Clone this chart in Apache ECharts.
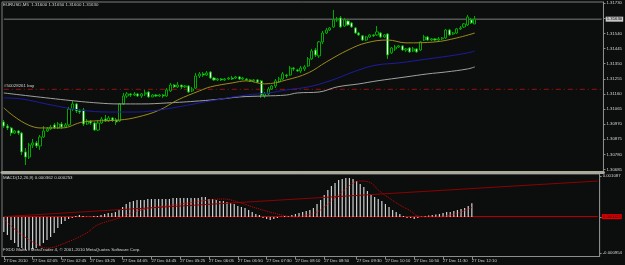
<!DOCTYPE html>
<html>
<head>
<meta charset="utf-8">
<script src="https://cdn.jsdelivr.net/npm/echarts@6/dist/echarts.min.js"></script>
<style>
html, body { margin: 0; padding: 0; background: #0c0e0e; }
#chart { width: 625px; height: 265px; }
</style>
</head>
<body>
<div id="chart"></div>
<script>
// EURUSD M5 candles (131 bars)
var opens = [1.30984,1.30958,1.30946,1.30914,1.30927,1.30914,1.30795,1.30763,1.30839,1.30852,
  1.30833,1.30889,1.30927,1.30940,1.30965,1.30946,1.30971,1.30952,1.30965,1.31065,
  1.31097,1.31053,1.31059,1.30971,1.30990,1.30977,1.30933,1.30977,1.31002,1.30990,
  1.31009,1.30996,1.30990,1.31097,1.31147,1.31160,1.31153,1.31160,1.31147,1.31160,
  1.31172,1.31141,1.31153,1.31147,1.31153,1.31147,1.31179,1.31216,1.31204,1.31216,
  1.31204,1.31210,1.31179,1.31197,1.31273,1.31286,1.31279,1.31298,1.31260,1.31248,
  1.31254,1.31248,1.31254,1.31260,1.31260,1.31267,1.31254,1.31254,1.31248,1.31242,
  1.31248,1.31242,1.31147,1.31160,1.31191,1.31210,1.31235,1.31254,1.31279,1.31279,
  1.31323,1.31311,1.31304,1.31317,1.31336,1.31380,1.31436,1.31399,1.31487,1.31543,
  1.31562,1.31581,1.31625,1.31638,1.31587,1.31619,1.31606,1.31575,1.31543,1.31525,
  1.31499,1.31518,1.31531,1.31531,1.31543,1.31518,1.31537,1.31418,1.31443,1.31455,
  1.31462,1.31436,1.31449,1.31430,1.31443,1.31436,1.31499,1.31518,1.31499,1.31506,
  1.31499,1.31506,1.31512,1.31562,1.31537,1.31543,1.31569,1.31581,1.31594,1.31625,
  1.31600];
var closes = [1.30958,1.30946,1.30914,1.30927,1.30914,1.30795,1.30763,1.30839,1.30852,1.30833,
  1.30889,1.30927,1.30940,1.30952,1.30946,1.30971,1.30952,1.30965,1.31065,1.31097,
  1.31053,1.31046,1.30971,1.30990,1.30977,1.30933,1.30977,1.31002,1.30990,1.31009,
  1.30996,1.30984,1.31097,1.31147,1.31160,1.31153,1.31160,1.31147,1.31160,1.31166,
  1.31141,1.31153,1.31147,1.31153,1.31147,1.31185,1.31216,1.31204,1.31216,1.31204,
  1.31210,1.31172,1.31191,1.31273,1.31286,1.31279,1.31292,1.31260,1.31248,1.31254,
  1.31248,1.31254,1.31260,1.31254,1.31267,1.31254,1.31260,1.31248,1.31242,1.31248,
  1.31235,1.31153,1.31160,1.31191,1.31210,1.31242,1.31254,1.31286,1.31273,1.31323,
  1.31317,1.31304,1.31323,1.31330,1.31380,1.31430,1.31405,1.31487,1.31543,1.31562,
  1.31575,1.31625,1.31631,1.31581,1.31625,1.31594,1.31581,1.31543,1.31531,1.31499,
  1.31518,1.31531,1.31525,1.31550,1.31518,1.31531,1.31405,1.31449,1.31455,1.31462,
  1.31436,1.31443,1.31424,1.31443,1.31424,1.31487,1.31518,1.31499,1.31506,1.31499,
  1.31506,1.31512,1.31562,1.31531,1.31543,1.31569,1.31575,1.31600,1.31644,1.31606,
  1.31630];
var lows = [1.30946,1.30933,1.30896,1.30908,1.30902,1.30776,1.30713,1.30751,1.30820,1.30820,
  1.30808,1.30883,1.30921,1.30933,1.30940,1.30940,1.30940,1.30946,1.30958,1.31053,
  1.31040,1.31034,1.30958,1.30965,1.30965,1.30927,1.30927,1.30971,1.30984,1.30984,
  1.30984,1.30965,1.30984,1.31091,1.31135,1.31141,1.31147,1.31141,1.31135,1.31147,
  1.31135,1.31141,1.31141,1.31141,1.31135,1.31141,1.31172,1.31197,1.31197,1.31191,
  1.31197,1.31166,1.31172,1.31191,1.31260,1.31267,1.31273,1.31254,1.31242,1.31242,
  1.31242,1.31242,1.31248,1.31248,1.31254,1.31248,1.31248,1.31242,1.31235,1.31235,
  1.31229,1.31135,1.31135,1.31153,1.31185,1.31197,1.31229,1.31248,1.31260,1.31273,
  1.31304,1.31298,1.31292,1.31304,1.31330,1.31374,1.31392,1.31386,1.31474,1.31537,
  1.31556,1.31575,1.31613,1.31575,1.31581,1.31587,1.31575,1.31537,1.31525,1.31493,
  1.31493,1.31512,1.31518,1.31525,1.31512,1.31512,1.31380,1.31411,1.31430,1.31449,
  1.31430,1.31424,1.31418,1.31424,1.31418,1.31430,1.31493,1.31493,1.31493,1.31493,
  1.31493,1.31499,1.31506,1.31525,1.31531,1.31537,1.31562,1.31575,1.31587,1.31600,
  1.31600];
var highs = [1.30996,1.30971,1.30952,1.30933,1.30933,1.30921,1.30820,1.30852,1.30877,1.30864,
  1.30902,1.30958,1.30952,1.30965,1.30977,1.30984,1.30984,1.30977,1.31078,1.31116,
  1.31103,1.31065,1.31072,1.31002,1.30996,1.30984,1.30996,1.31015,1.31028,1.31021,
  1.31015,1.31009,1.31103,1.31166,1.31172,1.31166,1.31172,1.31166,1.31166,1.31185,
  1.31179,1.31160,1.31160,1.31160,1.31160,1.31197,1.31229,1.31223,1.31235,1.31216,
  1.31216,1.31216,1.31204,1.31292,1.31298,1.31298,1.31304,1.31304,1.31267,1.31260,
  1.31260,1.31260,1.31267,1.31273,1.31273,1.31273,1.31267,1.31260,1.31254,1.31254,
  1.31254,1.31248,1.31172,1.31204,1.31216,1.31254,1.31267,1.31298,1.31286,1.31336,
  1.31330,1.31317,1.31336,1.31342,1.31392,1.31443,1.31449,1.31493,1.31556,1.31575,
  1.31581,1.31688,1.31644,1.31650,1.31638,1.31625,1.31613,1.31581,1.31550,1.31531,
  1.31525,1.31537,1.31537,1.31587,1.31550,1.31537,1.31543,1.31455,1.31468,1.31468,
  1.31468,1.31449,1.31455,1.31455,1.31449,1.31493,1.31531,1.31525,1.31512,1.31512,
  1.31518,1.31518,1.31569,1.31569,1.31550,1.31575,1.31587,1.31606,1.31657,1.31638,
  1.31650];

// moving averages: [bar index, price]
var maYellow = [[0,1.31072],[10,1.30946],[16,1.30946],[22,1.30984],[32,1.30996],[37,1.31015],
  [43,1.31059],[48,1.31122],[54,1.31179],[57,1.31204],[63,1.31229],[67,1.31242],[72,1.31223],
  [78,1.31248],[84,1.31292],[89,1.31361],[95,1.31436],[100,1.31481],[106,1.31499],[111,1.31481],
  [119,1.31487],[125,1.31512],[130,1.31543]];
var maBlue = [[0,1.31135],[5,1.31128],[13,1.31091],[21,1.31059],[29,1.31046],[36,1.31046],
  [41,1.31053],[48,1.31078],[57,1.31116],[67,1.31153],[73,1.31166],[78,1.31185],[84,1.31204],
  [90,1.31242],[98,1.31311],[103,1.31342],[109,1.31355],[117,1.31380],[123,1.31399],[128,1.31418],
  [130,1.31430]];
var maGray = [[0,1.31166],[17,1.31122],[26,1.31103],[32,1.31097],[38,1.31097],[45,1.31103],
  [54,1.31116],[60,1.31128],[65,1.31141],[72,1.31147],[78,1.31153],[81,1.31166],[87,1.31172],
  [92,1.31204],[98,1.31223],[103,1.31242],[111,1.31267],[117,1.31286],[122,1.31298],[128,1.31317],
  [130,1.31330]];

// MACD(12,26,9) main histogram, one value per bar
var macdMain = [-0.000398,-0.000477,-0.000610,-0.000689,-0.000795,-0.000822,-0.000875,-0.000875,-0.000848,-0.000822,
  -0.000769,-0.000689,-0.000610,-0.000530,-0.000424,-0.000292,-0.000186,-0.000106,-0.000053,-0.000027,
  0.000027,0.000053,0.000027,0.000005,0.000005,0.000027,0.000027,0.000053,0.000080,0.000106,
  0.000106,0.000133,0.000186,0.000265,0.000345,0.000398,0.000424,0.000451,0.000451,0.000451,
  0.000477,0.000477,0.000477,0.000477,0.000477,0.000477,0.000477,0.000504,0.000504,0.000504,
  0.000504,0.000504,0.000504,0.000504,0.000504,0.000530,0.000530,0.000477,0.000477,0.000451,
  0.000424,0.000424,0.000398,0.000371,0.000345,0.000292,0.000265,0.000239,0.000186,0.000133,
  0.000080,0.000053,-0.000027,-0.000053,-0.000080,-0.000053,-0.000027,0.000005,0.000027,0.000027,
  0.000053,0.000080,0.000106,0.000133,0.000159,0.000186,0.000239,0.000345,0.000451,0.000583,
  0.000716,0.000822,0.000901,0.000981,0.001007,0.001034,0.001034,0.001007,0.000954,0.000875,
  0.000795,0.000689,0.000610,0.000530,0.000477,0.000424,0.000345,0.000265,0.000186,0.000133,
  0.000080,0.000027,-0.000027,-0.000027,-0.000053,-0.000027,0.000013,0.000027,0.000040,0.000053,
  0.000066,0.000080,0.000106,0.000133,0.000133,0.000159,0.000186,0.000212,0.000239,0.000292,
  0.000362];
// signal line: [bar index, value]
var macdSignal = [[0,-0.000053],[4,-0.000398],[10,-0.000769],[12,-0.000822],[17,-0.000689],[23,-0.000424],
  [26,-0.000212],[32,-0.000027],[37,0.000159],[43,0.000265],[51,0.000371],[57,0.000451],[61,0.000477],
  [65,0.000398],[70,0.000239],[76,0.000080],[81,0.000005],[84,0.000053],[87,0.000133],[89,0.000265],
  [92,0.000504],[95,0.000742],[97,0.000901],[99,0.000954],[102,0.000901],[104,0.000716],[107,0.000504],
  [110,0.000318],[113,0.000159],[115,0.000027],[118,0.000005],[121,0.000005],[124,0.000053],
  [127,0.000133],[130,0.000253]];
var macdTrend = [[0,0.00001],[165,0.000954]];
var macdLevel = 0.00001;

var priceTicks = [1.31730,1.31635,1.31540,1.31445,1.31350,1.31255,1.31160,1.31065,1.30970,1.30875,1.30780,1.30685];
var macdTicks = [0.001087,0,-0.000954];
var macdTickText = ['0.001087','0.00','-0.000954'];
var timeLabels = ['27 Dec 2010','27 Dec 02:05','27 Dec 02:45','27 Dec 03:25','27 Dec 04:05','27 Dec 04:45',
  '27 Dec 05:25','27 Dec 06:05','27 Dec 06:50','27 Dec 07:30','27 Dec 08:10','27 Dec 08:50',
  '27 Dec 09:30','27 Dec 10:10','27 Dec 10:50','27 Dec 11:30','27 Dec 12:10'];
var timeTickIdx = [0,8,16,24,33,41,49,57,65,73,81,89,98,106,114,122,130];

var bidPrice = 1.31630;
var orderPrice = 1.31189;
var slotCount = 166;

var cats = [];
for (var i = 0; i < slotCount; i++) cats.push(i);
var candles = [];
for (var i = 0; i < opens.length; i++) candles.push([opens[i], closes[i], lows[i], highs[i]]);
var lastSlot = slotCount - 1;

var FONT = 'Liberation Sans';
var TXT = '#d2d2d2';

var myChart = echarts.init(document.getElementById('chart'), null, { renderer: 'canvas' });

function isTimeTick(idx) { return timeTickIdx.indexOf(idx) >= 0; }

// horizontal line drawn across a whole panel, with an optional price box at the right end
function hLine(name, xi, yi, value, style, box) {
  var s = {
    name: name, type: 'line', xAxisIndex: xi, yAxisIndex: yi, showSymbol: false, silent: true,
    data: [[0, value], [lastSlot, value]], lineStyle: style, z: 1
  };
  if (box) {
    s.endLabel = { show: true, distance: 4, formatter: box.text, fontSize: 4.3, fontFamily: FONT,
      color: box.color, backgroundColor: box.bg, padding: [1, 1, 0, 1] };
  }
  return s;
}

var option = {
  backgroundColor: '#0c0e0e',
  animation: false,
  textStyle: { fontFamily: FONT },
  grid: [
    { left: 2, top: 2, width: 605, height: 170, show: true, borderColor: '#7a7a7a', borderWidth: 1, backgroundColor: 'transparent' },
    { left: 2, top: 174, width: 605, height: 82.5, show: true, borderColor: '#7a7a7a', borderWidth: 1, backgroundColor: 'transparent' }
  ],
  xAxis: [
    {
      type: 'category', gridIndex: 0, data: cats, boundaryGap: true,
      axisLine: { show: true, onZero: false, lineStyle: { color: '#a9a99c', width: 3 } },
      axisTick: { show: false }, axisLabel: { show: false }, splitLine: { show: false }
    },
    {
      type: 'category', gridIndex: 1, data: cats, boundaryGap: true,
      axisLine: { show: true, onZero: false, lineStyle: { color: '#8c8c8c', width: 1 } },
      axisTick: { show: true, alignWithLabel: true, length: 3, interval: function (idx) { return isTimeTick(idx); },
        lineStyle: { color: '#8c8c8c' } },
      axisLabel: {
        show: true, interval: function (idx) { return isTimeTick(idx); }, align: 'left', margin: 2,
        fontSize: 4.2, color: TXT, fontFamily: FONT,
        formatter: function (v, idx) { var k = timeTickIdx.indexOf(Number(v)); return k >= 0 ? timeLabels[k] : ''; }
      },
      splitLine: { show: false }
    }
  ],
  yAxis: [
    {
      type: 'value', gridIndex: 0, position: 'right', min: 1.30669, max: 1.31738,
      axisLine: { show: true, lineStyle: { color: '#8c8c8c' } },
      axisTick: { show: true, length: 2, customValues: priceTicks, lineStyle: { color: '#8c8c8c' } },
      axisLabel: { show: true, customValues: priceTicks, margin: 3, fontSize: 4.3, color: TXT, fontFamily: FONT,
        formatter: function (v) { return v.toFixed(5); } },
      splitLine: { show: false }
    },
    {
      type: 'value', gridIndex: 1, position: 'right', min: -0.00104675, max: 0.0011395,
      axisLine: { show: true, lineStyle: { color: '#8c8c8c' } },
      axisTick: { show: true, length: 2, customValues: macdTicks, lineStyle: { color: '#8c8c8c' } },
      axisLabel: { show: true, customValues: macdTicks, margin: 3, fontSize: 4.3, color: TXT, fontFamily: FONT,
        formatter: function (v) { var k = macdTicks.indexOf(v); return k >= 0 ? macdTickText[k] : ''; } },
      splitLine: { show: false }
    }
  ],
  graphic: [
    { type: 'text', left: 3, top: 3, style: { text: 'EURUSD,M5  1.31600 1.31650 1.31600 1.31630', fill: TXT, font: '4.4px ' + FONT } },
    { type: 'text', left: 4, top: 84, style: { text: '#50028261 buy', fill: TXT, font: '4.4px ' + FONT } },
    { type: 'text', left: 3, top: 175.5, style: { text: 'MACD(12,26,9) 0.000362 0.000253', fill: TXT, font: '4.4px ' + FONT } },
    { type: 'text', left: 3, top: 247.5, style: { text: 'FXDD Malta - MetaTrader 4, \u00a9 2001-2010 MetaQuotes Software Corp.', fill: TXT, font: '4.4px ' + FONT } }
  ],
  series: [
    hLine('Bid', 0, 0, bidPrice, { color: '#7c7c7c', width: 1 },
      { text: bidPrice.toFixed(5), color: '#000', bg: '#c8c8c8' }),
    hLine('Order', 0, 0, orderPrice, { color: '#9a1010', width: 1, type: [5, 3, 1, 3] }, null),
    { name: 'MA3', type: 'line', xAxisIndex: 0, yAxisIndex: 0, data: maGray, smooth: 0.4, showSymbol: false,
      lineStyle: { color: '#a0a0a0', width: 1 } },
    { name: 'MA1', type: 'line', xAxisIndex: 0, yAxisIndex: 0, data: maYellow, smooth: 0.4, showSymbol: false,
      lineStyle: { color: '#9c8a1a', width: 1 } },
    { name: 'MA2', type: 'line', xAxisIndex: 0, yAxisIndex: 0, data: maBlue, smooth: 0.4, showSymbol: false,
      lineStyle: { color: '#1c1ca0', width: 1 } },
    {
      name: 'EURUSD', type: 'candlestick', xAxisIndex: 0, yAxisIndex: 0, data: candles, barWidth: 2.6,
      itemStyle: { color: '#000000', color0: '#ffffff', borderColor: '#00a800', borderColor0: '#00a800', borderWidth: 1 }
    },
    hLine('Level', 1, 1, macdLevel, { color: '#c00000', width: 1 },
      { text: '0.000025', color: '#400000', bg: '#e00000' }),
    {
      name: 'MACD', type: 'bar', xAxisIndex: 1, yAxisIndex: 1, data: macdMain, barWidth: 1.2,
      itemStyle: { color: '#d0d0d0' }
    },
    { name: 'Signal', type: 'line', xAxisIndex: 1, yAxisIndex: 1, data: macdSignal, smooth: 0.4, showSymbol: false,
      lineStyle: { color: '#d40000', width: 1, type: [1, 1] } },
    { name: 'Trend', type: 'line', xAxisIndex: 1, yAxisIndex: 1, data: macdTrend, showSymbol: false,
      lineStyle: { color: '#8e0000', width: 1 } }
  ]
};

myChart.setOption(option);
</script>
</body>
</html>
